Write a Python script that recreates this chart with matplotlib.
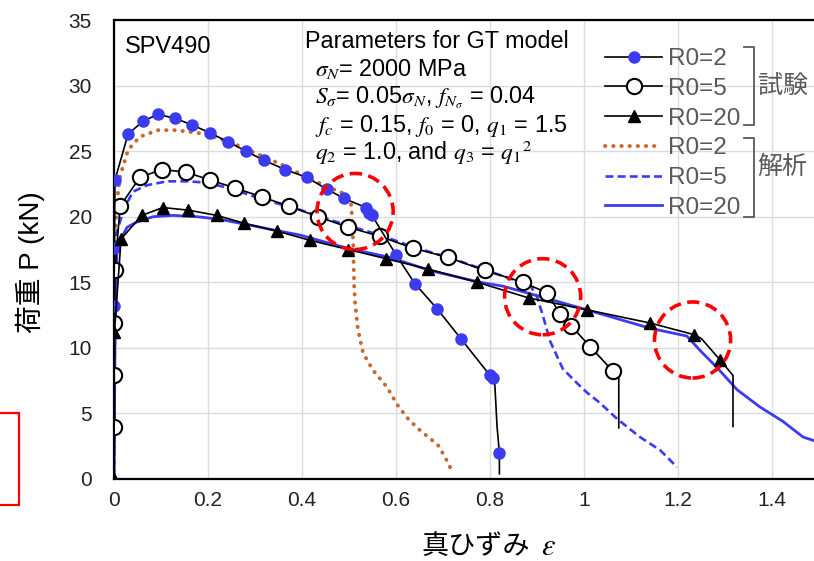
import matplotlib
matplotlib.use("Agg")
import matplotlib.pyplot as plt
from matplotlib.lines import Line2D
from matplotlib.patches import Ellipse, Rectangle

plt.rcParams['font.family'] = ['Liberation Sans', 'Noto Sans CJK JP', 'DejaVu Sans']
plt.rcParams['mathtext.fontset'] = 'stix'

# %% data (true strain, load kN)
test2_x = [0, 0.0, 0.001, 0.002, 0.03, 0.062, 0.094, 0.13, 0.166, 0.204, 0.243, 0.281,
           0.319, 0.364, 0.41, 0.453, 0.489, 0.536, 0.542, 0.549, 0.6, 0.64, 0.687,
           0.738, 0.8, 0.806, 0.81, 0.815, 0.82, 0.82]
test2_y = [0, 13.2, 17.6, 22.8, 26.3, 27.3, 27.8, 27.5, 27.0, 26.4, 25.7, 25.0,
           24.3, 23.6, 23.0, 22.1, 21.4, 20.7, 20.3, 20.1, 17.1, 14.9, 13.0,
           10.7, 7.9, 7.7, 7.4, 4.0, 2.0, 0.4]

test5_x = [0, 0.001, 0.001, 0.001, 0.002, 0.013, 0.055, 0.102, 0.153, 0.204, 0.257,
           0.315, 0.373, 0.434, 0.498, 0.566, 0.636, 0.711, 0.789, 0.870, 0.921,
           0.949, 0.972, 1.013, 1.062, 1.074, 1.074]
test5_y = [0, 4.0, 7.9, 11.9, 15.9, 20.8, 23.0, 23.6, 23.4, 22.8, 22.2,
           21.5, 20.8, 20.0, 19.2, 18.5, 17.6, 16.9, 15.9, 15.0, 14.2,
           12.6, 11.7, 10.1, 8.2, 7.7, 3.9]

test20_x = [0, 0.001, 0.015, 0.059, 0.104, 0.158, 0.219, 0.277, 0.347, 0.417, 0.498,
            0.579, 0.669, 0.773, 0.883, 1.006, 1.140, 1.235, 1.25, 1.289, 1.317, 1.317]
test20_y = [0, 11.2, 18.3, 20.1, 20.7, 20.5, 20.1, 19.5, 18.9, 18.2, 17.5,
            16.8, 16.0, 15.0, 13.8, 12.9, 11.9, 11.0, 10.7, 9.1, 7.9, 4.0]

gt2_x = [0, 0.001, 0.006, 0.013, 0.03, 0.055, 0.094, 0.13, 0.177, 0.204, 0.253, 0.317,
         0.368, 0.41, 0.453, 0.494, 0.504, 0.507, 0.509, 0.511, 0.513, 0.519, 0.530,
         0.551, 0.581, 0.602, 0.623, 0.645, 0.672, 0.689, 0.704, 0.715]
gt2_y = [0, 17.7, 21.1, 23.1, 25.1, 26.1, 26.6, 26.6, 26.4, 26.2, 25.6, 24.6,
         23.8, 23.0, 22.3, 21.7, 21.1, 19.8, 17.7, 14.7, 13.4, 11.4, 9.6,
         8.3, 7.0, 5.7, 4.7, 3.9, 3.1, 2.6, 1.7, 0.9]

gt5_x = [0, 0.002, 0.006, 0.02, 0.04, 0.07, 0.113, 0.155, 0.198, 0.253, 0.317, 0.381,
         0.44, 0.5, 0.566, 0.636, 0.711, 0.785, 0.85, 0.885, 0.9, 0.913, 0.928,
         0.955, 0.991, 1.006, 1.034, 1.07, 1.119, 1.162, 1.198]
gt5_y = [0, 12, 18.8, 20.5, 21.9, 22.4, 22.7, 22.7, 22.6, 22.1, 21.3, 20.7,
         20.0, 19.3, 18.6, 17.7, 16.9, 16.0, 15.2, 14.8, 13.9, 12.4, 10.5,
         8.4, 7.1, 6.6, 5.8, 4.6, 3.2, 2.2, 0.9]

gt20_x = [0, 0.002, 0.006, 0.013, 0.028, 0.049, 0.083, 0.126, 0.177, 0.226, 0.283,
          0.338, 0.396, 0.496, 0.587, 0.672, 0.779, 0.828, 0.928, 1.006, 1.140,
          1.219, 1.247, 1.283, 1.326, 1.374, 1.423, 1.466, 1.5]
gt20_y = [0, 10, 17.2, 18.2, 19.2, 19.6, 20.0, 20.1, 20.0, 19.8, 19.4,
          19.0, 18.6, 17.6, 16.9, 15.9, 15.0, 14.7, 13.7, 12.9, 11.5,
          10.9, 9.8, 8.5, 6.8, 5.5, 4.4, 3.2, 2.8]

labels = ['R0=2', 'R0=5', 'R0=20', 'R0=2', 'R0=5', 'R0=20']
params = [r'$\sigma_N$= 2000 MPa',
          r'$S_\sigma$= 0.05$\sigma_N$, $f_{N_\sigma}$ = 0.04',
          r'$f_c$ = 0.15, $f_0$ = 0, $q_1$ = 1.5',
          r'$q_2$ = 1.0, and $q_3$ = $q_1$$^2$']
# spots circled in red on the original figure
circles = [(0.513, 20.4), (0.912, 13.9), (1.231, 10.6)]

# %% plot
BLUE = '#3b3bf2'
ORANGE = '#c8692c'
GRAY = '#595959'
CJK = ['Noto Sans CJK JP', 'DejaVu Sans']

fig = plt.figure(figsize=(8.14, 5.61), dpi=100)
ax = fig.add_axes([114 / 814, 82 / 561, 705 / 814, 459 / 561])

h4, = ax.plot(gt2_x, gt2_y, ls=(0, (0.1, 2.0)), dash_capstyle='round', lw=2.8,
              color=ORANGE, zorder=2)
h5, = ax.plot(gt5_x, gt5_y, ls=(0, (3.0, 1.6)), lw=1.9, color=BLUE, zorder=2)
h6, = ax.plot(gt20_x, gt20_y, ls='-', lw=2.0, color=BLUE, zorder=2)

skip2 = {0, 26, 27, 29}
h1, = ax.plot(test2_x, test2_y, '-', color='black', lw=1.2, marker='o', ms=8,
              mfc=BLUE, mec=BLUE, zorder=4,
              markevery=[i for i in range(len(test2_x)) if i not in skip2])
skip5 = {0, 25, 26}
h2, = ax.plot(test5_x, test5_y, '-', color='black', lw=1.2, marker='o', ms=11,
              mfc='white', mec='black', mew=1.5, zorder=3,
              markevery=[i for i in range(len(test5_x)) if i not in skip5])
skip20 = {18, 20, 21}
h3, = ax.plot(test20_x, test20_y, '-', color='black', lw=1.2, marker='^', ms=8.5,
              mfc='black', mec='black', zorder=4,
              markevery=[i for i in range(len(test20_x)) if i not in skip20])

for cx, cy in circles:
    ax.add_patch(Ellipse((cx, cy), 0.162, 5.8, fill=False, ec='red', lw=2.6,
                         ls=(0, (3.4, 1.8)), zorder=6))

ax.set_xlim(0, 1.5)
ax.set_ylim(0, 35)
ax.set_xticks([0, 0.2, 0.4, 0.6, 0.8, 1.0, 1.2, 1.4])
ax.set_xticklabels(['0', '0.2', '0.4', '0.6', '0.8', '1', '1.2', '1.4'])
ax.set_yticks(range(0, 36, 5))
ax.tick_params(length=0, labelsize=15, colors='#222222')
ax.tick_params(axis='y', pad=16)
ax.tick_params(axis='x', pad=9)
ax.grid(True, color='#dcdcdc', lw=1.0)
ax.set_axisbelow(True)
for side in ['left', 'bottom', 'top']:
    ax.spines[side].set_linewidth(1.6)
ax.spines['right'].set_visible(False)

# axis titles (CJK and math kept in separate texts)
fig.text(421 / 814, 1 - 546 / 561, '真ひずみ', family=CJK, fontsize=19.5,
         va='center', ha='left')
fig.text(541 / 814, 1 - 555 / 561, r'$\varepsilon$', fontsize=22,
         va='baseline', ha='left')
fig.text(30 / 814, 1 - 262 / 561, '荷重 P (kN)', fontsize=20, rotation=90,
         va='center', ha='center')

ax.text(0.016, 0.965, 'SPV490', transform=ax.transAxes, fontsize=17,
        va='top', ha='left')
ax.text((305 - 114) / 705, 1 - (48 - 20) / 459, 'Parameters for GT model',
        transform=ax.transAxes, fontsize=16.8, va='baseline')
for i, s in enumerate(params):
    ax.text((315 - 114) / 705, 1 - (76 + 28 * i - 20) / 459, s,
            transform=ax.transAxes, fontsize=16.8, va='baseline')

leg = ax.legend([h1, h2, h3, h4, h5, h6], labels, loc='upper left',
                bbox_to_anchor=((605 - 114) / 705, 1 - (48 - 20) / 459),
                frameon=False, fontsize=17.5, handlelength=2.35, handletextpad=0.25,
                labelspacing=0.32, borderpad=0, borderaxespad=0)
for t in leg.get_texts():
    t.set_color(GRAY)

# brackets grouping the legend
for top, bot in [(47, 125), (138, 217)]:
    yt = 1 - (top - 20) / 459
    yb = 1 - (bot - 20) / 459
    ax.add_line(Line2D([0.894, 0.908, 0.908, 0.894], [yt, yt, yb, yb],
                       transform=ax.transAxes, color=GRAY, lw=1.3, clip_on=False))
ax.text(0.913, 1 - (87 - 20) / 459, '試験', transform=ax.transAxes, fontsize=18,
        color=GRAY, va='center', ha='left')
ax.text(0.913, 1 - (167 - 20) / 459, '解析', transform=ax.transAxes, fontsize=18,
        color=GRAY, va='center', ha='left')

fig.patches.append(Rectangle((-0.01, 56 / 561), 19 / 814 + 0.01, 92 / 561,
                             transform=fig.transFigure, fill=False, ec='red', lw=1.6))

fig.savefig('out.png', dpi=100)
